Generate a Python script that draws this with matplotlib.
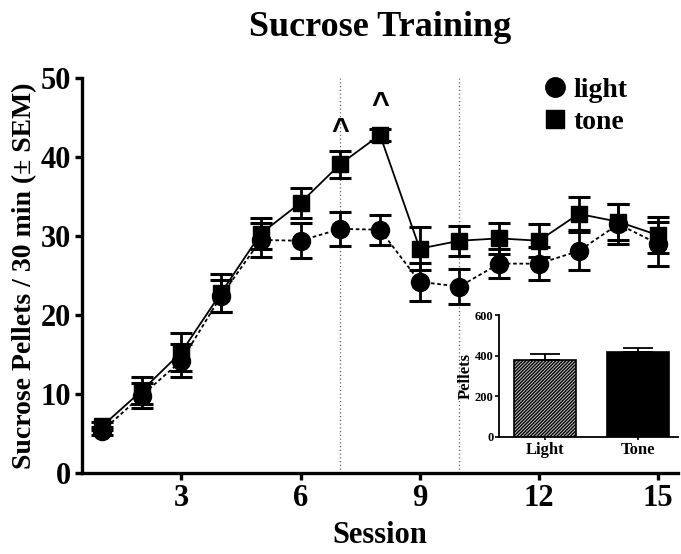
import matplotlib
matplotlib.use("Agg")
import matplotlib.pyplot as plt
import numpy as np
from matplotlib.lines import Line2D

plt.rcParams['font.family'] = ['Liberation Serif', 'DejaVu Serif']
plt.rcParams['font.weight'] = 'bold'
plt.rcParams['hatch.linewidth'] = 1.0
plt.rcParams['hatch.color'] = '#333333'

sessions = list(range(1, 16))
light_mean = [5.3, 9.8, 14.2, 22.4, 29.5, 29.4, 30.9, 30.8, 24.2, 23.6, 26.5, 26.5, 28.1, 31.5, 29.0]
light_sem = [0.5, 1.6, 2.1, 2.0, 2.1, 2.2, 2.2, 1.9, 2.4, 2.2, 1.8, 2.1, 2.4, 2.5, 2.8]
tone_mean = [5.9, 10.4, 15.3, 22.8, 30.3, 34.2, 39.1, 42.8, 28.4, 29.4, 29.7, 29.4, 32.8, 31.8, 30.1]
tone_sem = [0.5, 1.7, 2.4, 2.4, 2.0, 1.9, 1.7, 0.8, 2.7, 1.9, 2.0, 2.1, 2.1, 2.3, 2.3]
marked_sessions = [7, 8]
marked_heights = [43.2, 46.4]
divider_sessions = [7, 10]

inset_labels = ['Light', 'Tone']
inset_means = [378, 416]
inset_sems = [29, 20]

fig = plt.figure(figsize=(6.81, 5.54), dpi=100)
ax = fig.add_axes([0.1204, 0.1462, 0.8752, 0.7130])

for xv in divider_sessions:
    ax.axvline(xv, color='#666666', lw=0.9, ls=(0, (1, 2)), zorder=1)

ax.errorbar(sessions, light_mean, yerr=light_sem, color='black', ls=(0, (2, 1.5)), lw=1.3,
            marker='o', ms=13, capsize=8, elinewidth=2.0, capthick=2.2, label='light', zorder=3)
ax.errorbar(sessions, tone_mean, yerr=tone_sem, color='black', ls='-', lw=1.3,
            marker='s', ms=12, capsize=8, elinewidth=2.0, capthick=2.2, label='tone', zorder=4)

for xs, ys in zip(marked_sessions, marked_heights):
    ax.text(xs, ys, '^', ha='center', va='center', fontsize=22, fontweight='bold',
            family=['Liberation Sans', 'DejaVu Sans'])

ax.set_xlim(0.5, 15.5)
ax.set_ylim(0, 50)
ax.set_xticks([3, 6, 9, 12, 15])
ax.set_yticks([0, 10, 20, 30, 40, 50])
for s in ['top', 'right']:
    ax.spines[s].set_visible(False)
for s in ['left', 'bottom']:
    ax.spines[s].set_linewidth(2.4)
ax.tick_params(axis='both', which='major', labelsize=22, width=2.4, length=5, direction='out', pad=3)
for lab in ax.get_xticklabels() + ax.get_yticklabels():
    lab.set_fontweight('bold')
ax.set_xlabel('Session', fontsize=22, fontweight='bold', labelpad=6)
ax.set_ylabel('Sucrose Pellets / 30 min (± SEM)', fontsize=20, fontweight='bold', labelpad=2)
ax.set_title('Sucrose Training', fontsize=26, fontweight='bold', pad=30)

handles = [Line2D([], [], marker='o', color='black', ls='none', ms=14),
           Line2D([], [], marker='s', color='black', ls='none', ms=13)]
leg = ax.legend(handles, ['light', 'tone'], loc='upper left', frameon=False,
                prop={'size': 20, 'weight': 'bold'}, handletextpad=0.0, handlelength=1.3,
                labelspacing=0.25, bbox_to_anchor=(0.745, 1.03), borderaxespad=0)

ins = fig.add_axes([0.7327, 0.2112, 0.2628, 0.2202])
pos = np.arange(len(inset_labels))
b = ins.bar(pos, inset_means, width=0.667, color=['#c8c8c8', 'black'], edgecolor='black', lw=1.2)
b[0].set_hatch('//////////')
ins.errorbar(pos, inset_means, yerr=[[0, 0], inset_sems], fmt='none', ecolor='black',
             elinewidth=1.3, capsize=11, capthick=1.3)
ins.set_xlim(-0.495, 1.43)
ins.set_ylim(0, 600)
ins.set_yticks([0, 200, 400, 600])
ins.set_xticks(pos)
ins.set_xticklabels(inset_labels, fontsize=12, fontweight='bold')
ins.set_ylabel('Pellets', fontsize=12, fontweight='bold', labelpad=1)
for s in ['top', 'right']:
    ins.spines[s].set_visible(False)
for s in ['left', 'bottom']:
    ins.spines[s].set_linewidth(1.3)
ins.tick_params(axis='y', labelsize=9, width=1.2, length=3, pad=1)
ins.tick_params(axis='x', width=1.2, length=2.5, pad=1)
for lab in ins.get_yticklabels():
    lab.set_fontweight('bold')
ins.patch.set_alpha(0)

fig.savefig('out.png', dpi=100)
